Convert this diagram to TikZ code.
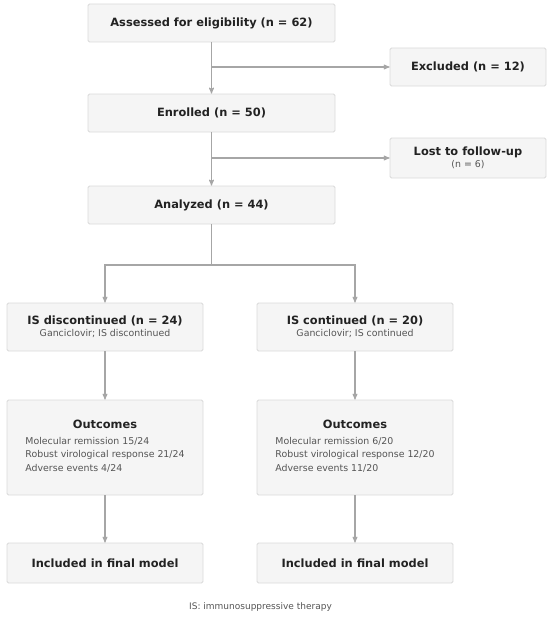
\documentclass[tikz,border=0pt]{standalone}
\usepackage{fontspec}
\setmainfont{DejaVu Sans}
\usepackage{tikz}
\usetikzlibrary{arrows,positioning}
\definecolor{boxfill}{HTML}{F5F5F5}
\definecolor{boxline}{HTML}{D9D9D9}
\definecolor{flowline}{HTML}{A6A6A6}
\definecolor{headtext}{HTML}{222222}
\definecolor{subtext}{HTML}{555555}
\tikzset{
    %Define standard arrow tip
    >=stealth',
    %Define style for boxes
    stage/.style={
           rectangle,
           rounded corners=1.5pt,
           draw=boxline, line width=0.8pt,
           fill=boxfill,
           inner sep=0pt,
           font=\fontsize{11.4}{13}\selectfont\bfseries,
           text=headtext,
           align=center},
    % Define arrow style
    pil/.style={
           ->,
           draw=flowline,
           line width=1.1pt},
    branch/.style={
           draw=flowline,
           line width=1.1pt}
}
\newcommand{\subline}[1]{{\fontsize{9.4}{11}\selectfont\mdseries\color{subtext}#1}}
\newcommand{\outlines}[3]{{\fontsize{9.4}{13.8}\selectfont\mdseries\color{subtext}
  \begin{tabular}{@{}l@{}}
  \multicolumn{1}{@{}c@{}}{\fontsize{11.4}{13}\selectfont\bfseries\color{headtext}Outcomes}\\[1.5pt]
  #1\\#2\\#3\end{tabular}}}

\begin{document}
\begin{tikzpicture}[x=1pt,y=-1pt]
\useasboundingbox (0,0) rectangle (550,618);
 %nodes
\node[stage, minimum width=247pt, minimum height=38pt] (assess) at (211.5,23) {Assessed for eligibility (n = 62)};
\node[stage, minimum width=156pt, minimum height=38pt] (excl) at (468,67) {Excluded (n = 12)};
\node[stage, minimum width=247pt, minimum height=38pt] (enrol) at (211.5,113) {Enrolled (n = 50)};
\node[stage, minimum width=156pt, minimum height=40pt] (lost) at (468,158) {Lost to follow-up\\[-1pt]\subline{(n = 6)}};
\node[stage, minimum width=247pt, minimum height=38pt] (anal) at (211.5,205) {Analyzed (n = 44)};
\node[stage, minimum width=196pt, minimum height=48pt] (isd) at (105,327) {IS discontinued (n = 24)\\[-1pt]\subline{Ganciclovir; IS discontinued}};
\node[stage, minimum width=196pt, minimum height=48pt] (isc) at (355,327) {IS continued (n = 20)\\[-1pt]\subline{Ganciclovir; IS continued}};
\node[stage, minimum width=196pt, minimum height=95pt] (outd) at (105,447.5) {\outlines{Molecular remission 15/24}{Robust virological response 21/24}{Adverse events 4/24}};
\node[stage, minimum width=196pt, minimum height=95pt] (outc) at (355,447.5) {\outlines{Molecular remission 6/20}{Robust virological response 12/20}{Adverse events 11/20}};
\node[stage, minimum width=196pt, minimum height=40pt] (incd) at (105,563) {Included in final model};
\node[stage, minimum width=196pt, minimum height=40pt] (incc) at (355,563) {Included in final model};
\node[font=\fontsize{9}{10}\selectfont, text=subtext] (note) at (260.5,607) {IS: immunosuppressive therapy};
 %connectors
\coordinate (j1) at (assess.south |- excl.west);
\coordinate (j2) at (enrol.south |- lost.west);
\coordinate (split) at (211.5,265);
\path[pil] (assess) -- (enrol);
\path[pil] (j1) -- (excl);
\path[pil] (enrol) -- (anal);
\path[pil] (j2) -- (lost);
\path[branch] (anal) -- (split);
\path[pil] (split) -| (isd);
\path[pil] (split) -| (isc);
\path[pil] (isd) -- (outd);
\path[pil] (isc) -- (outc);
\path[pil] (outd) -- (incd);
\path[pil] (outc) -- (incc);
\end{tikzpicture}
\end{document}
